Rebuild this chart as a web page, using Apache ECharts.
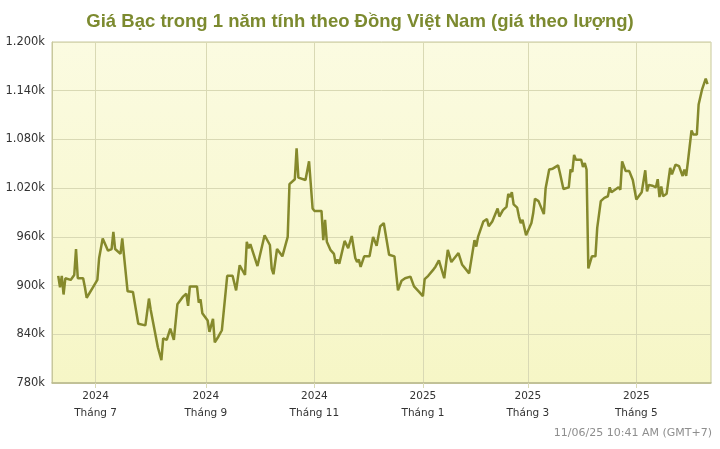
<!DOCTYPE html>
<html>
<head>
<meta charset="utf-8">
<script src="https://cdn.jsdelivr.net/npm/echarts@6/dist/echarts.min.js"></script>
<style>
html,body{margin:0;padding:0;background:#fff;}
#chart{width:720px;height:449px;}
</style>
</head>
<body>
<div id="chart"></div>
<script>
var titleText = 'Giá Bạc trong 1 năm tính theo Đồng Việt Nam (giá theo lượng)';
var stampText = '11/06/25 10:41 AM (GMT+7)';

var dates = [
'2024-06-10','2024-06-11','2024-06-12','2024-06-13','2024-06-14','2024-06-17','2024-06-19','2024-06-20','2024-06-21','2024-06-24',
'2024-06-25','2024-06-26','2024-06-29','2024-07-02','2024-07-03','2024-07-04','2024-07-05','2024-07-08','2024-07-10','2024-07-11',
'2024-07-12','2024-07-15','2024-07-16','2024-07-19','2024-07-22','2024-07-23','2024-07-25','2024-07-29','2024-07-31','2024-08-01',
'2024-08-02','2024-08-05','2024-08-07','2024-08-08','2024-08-10','2024-08-12','2024-08-14','2024-08-16','2024-08-19','2024-08-21',
'2024-08-22','2024-08-23','2024-08-27','2024-08-28','2024-08-29','2024-08-30','2024-09-02','2024-09-03','2024-09-05','2024-09-06',
'2024-09-08','2024-09-10','2024-09-13','2024-09-16','2024-09-18','2024-09-20','2024-09-23','2024-09-24','2024-09-25','2024-09-26',
'2024-09-30','2024-10-04','2024-10-07','2024-10-08','2024-10-09','2024-10-11','2024-10-14','2024-10-17','2024-10-18','2024-10-21',
'2024-10-22','2024-10-23','2024-10-27','2024-10-29','2024-10-31','2024-11-01','2024-11-05','2024-11-06','2024-11-07','2024-11-08',
'2024-11-10','2024-11-12','2024-11-13','2024-11-14','2024-11-15','2024-11-18','2024-11-19','2024-11-20','2024-11-22','2024-11-24',
'2024-11-25','2024-11-26','2024-11-27','2024-11-29','2024-12-02','2024-12-04','2024-12-06','2024-12-08','2024-12-10','2024-12-11',
'2024-12-13','2024-12-16','2024-12-18','2024-12-20','2024-12-22','2024-12-25','2024-12-26','2024-12-27','2024-12-30','2025-01-01',
'2025-01-02','2025-01-04','2025-01-07','2025-01-08','2025-01-10','2025-01-13','2025-01-15','2025-01-17','2025-01-18','2025-01-21',
'2025-01-23','2025-01-27','2025-01-30','2025-01-31','2025-02-01','2025-02-04','2025-02-06','2025-02-07','2025-02-09','2025-02-10',
'2025-02-12','2025-02-13','2025-02-15','2025-02-17','2025-02-18','2025-02-19','2025-02-20','2025-02-21','2025-02-23','2025-02-24',
'2025-02-25','2025-02-26','2025-02-28','2025-03-03','2025-03-04','2025-03-05','2025-03-07','2025-03-10','2025-03-11','2025-03-13',
'2025-03-15','2025-03-18','2025-03-19','2025-03-21','2025-03-24','2025-03-25','2025-03-26','2025-03-27','2025-03-28','2025-03-31',
'2025-04-01','2025-04-02','2025-04-03','2025-04-04','2025-04-06','2025-04-08','2025-04-09','2025-04-10','2025-04-11','2025-04-13',
'2025-04-15','2025-04-16','2025-04-17','2025-04-18','2025-04-21','2025-04-22','2025-04-23','2025-04-24','2025-04-25','2025-04-27',
'2025-04-29','2025-05-01','2025-05-04','2025-05-06','2025-05-07','2025-05-08','2025-05-10','2025-05-12','2025-05-13','2025-05-14',
'2025-05-15','2025-05-16','2025-05-18','2025-05-20','2025-05-21','2025-05-23','2025-05-25','2025-05-27','2025-05-28','2025-05-29',
'2025-05-30','2025-06-01','2025-06-02','2025-06-04','2025-06-05','2025-06-07','2025-06-09','2025-06-10'
];

var prices = [
912,898,912,889,909,907,913,945,909,909,
898,885,896,907,934,933,958,943,945,966,
945,939,958,893,892,894,853,851,884,870,
869,824,808,835,833,847,833,877,886,890,
875,899,899,879,883,866,857,843,859,830,
837,845,912,912,894,925,913,954,946,951,
924,962,950,921,914,945,936,960,1025,1031,
1069,1033,1030,1053,995,992,992,956,981,954,
944,939,927,932,927,955,955,946,961,934,
929,932,923,936,936,960,949,973,977,977,
938,936,894,906,909,911,909,899,892,887,
908,912,920,923,931,909,944,929,931,940,
926,915,956,948,960,979,982,973,979,981,
995,985,993,997,1013,1009,1015,1000,996,985,
977,981,962,977,989,1007,1004,988,1020,1043,
1044,1048,1039,1019,1021,1043,1040,1061,1055,1055,
1046,1051,1043,921,936,936,971,969,1004,1008,
1010,1021,1015,1017,1021,1018,1053,1055,1041,1041,
1030,1006,1015,1042,1016,1024,1023,1021,1031,1009,
1022,1010,1013,1045,1037,1049,1047,1035,1043,1035,
1053,1091,1086,1086,1123,1142,1155,1148
];

var monthTicks = ['2024-07-01','2024-09-01','2024-11-01','2025-01-01','2025-03-01','2025-05-01'];
var axisStart = '2024-06-06 12';
var axisEnd = '2025-06-11 23';

var yMin = 780, yMax = 1200, yStep = 60;

function toTs(s){
  var p = s.split(/[- ]/).map(Number);
  return new Date(p[0], p[1]-1, p[2], p[3] || 0).getTime();
}

var chart = echarts.init(document.getElementById('chart'), null, {renderer:'canvas'});
var gridColor = '#d9d9b4';
var tickVals = monthTicks.map(toTs);
var option = {
  animation: false,
  backgroundColor: '#ffffff',
  title: {
    text: titleText,
    left: 'center',
    top: 7,
    textStyle: {fontFamily: 'Liberation Sans', fontWeight: 'bold', fontSize: 18.5, color: '#7c8a2f'}
  },
  grid: {
    left: 52, right: 9, top: 42, bottom: 66,
    show: true,
    borderColor: '#c8c89c',
    borderWidth: 1,
    backgroundColor: new echarts.graphic.LinearGradient(0,0,0,1,[
      {offset:0, color:'#fbfbe1'},
      {offset:1, color:'#f6f6c6'}
    ])
  },
  xAxis: {
    type: 'value',
    min: toTs(axisStart),
    max: toTs(axisEnd),
    axisLine: {show: true, lineStyle: {color: '#b9b98f', width: 1.5}},
    axisTick: {show: true, length: 5, lineStyle: {color: gridColor}, customValues: tickVals},
    splitLine: {show: false},
    axisLabel: {
      customValues: tickVals,
      margin: 5,
      fontFamily: 'DejaVu Sans',
      fontSize: 10.5,
      color: '#333',
      lineHeight: 17,
      formatter: function(v){
        var d = new Date(v);
        return d.getFullYear() + '\nTháng ' + (d.getMonth()+1);
      }
    }
  },
  yAxis: {
    type: 'value',
    min: yMin, max: yMax, interval: yStep,
    axisLine: {show: true, lineStyle: {color: '#c8c89c'}},
    axisTick: {show: false},
    splitLine: {show: true, lineStyle: {color: gridColor, width: 1}},
    axisLabel: {
      margin: 7,
      fontFamily: 'DejaVu Sans',
      fontSize: 11.5,
      color: '#333',
      formatter: function(v){
        if (v >= 1000) {
          var r = String(v % 1000); while (r.length < 3) r = '0' + r;
          return Math.floor(v/1000) + '.' + r + 'k';
        }
        return v + 'k';
      }
    }
  },
  graphic: [{
    type: 'text',
    right: 8,
    top: 428,
    style: {text: stampText, fontFamily: 'DejaVu Sans', fontSize: 11, fill: '#8e8e8e'}
  }],
  series: [{
    type: 'line',
    data: dates.map(function(d,i){ return [toTs(d), prices[i]]; }),
    showSymbol: false,
    symbol: 'none',
    lineStyle: {color: '#85892c', width: 2.5},
    itemStyle: {color: '#85892c'},
    markLine: {
      silent: true,
      symbol: 'none',
      label: {show: false},
      lineStyle: {color: gridColor, width: 1, type: 'solid'},
      z: 0,
      data: tickVals.map(function(t){ return {xAxis: t}; })
    }
  }]
};
chart.setOption(option);
</script>
</body>
</html>
